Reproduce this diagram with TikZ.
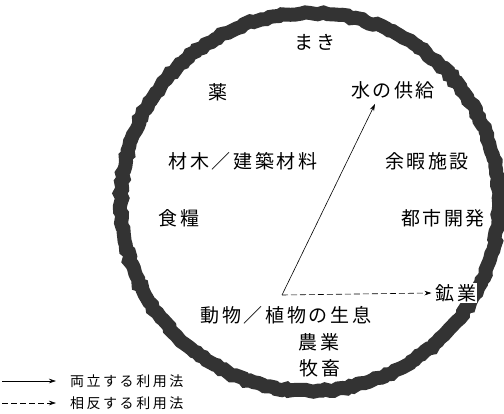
\documentclass[tikz,border=0pt]{standalone}
\usepackage{fontspec}
\newfontfamily\jp[LetterSpace=14]{Noto Sans CJK JP}
\newfontfamily\jpleg[LetterSpace=18]{Noto Sans CJK JP}
\usetikzlibrary{arrows.meta,decorations.pathmorphing}
\begin{document}
\begin{tikzpicture}[x=1pt,y=-1pt,
  lab/.style={font=\jp\fontsize{19}{21}\selectfont, inner sep=1pt, fill=white},
  legtxt/.style={font=\jpleg\fontsize{14}{16}\selectfont, anchor=west, inner sep=0pt},
  ring/.style={draw=black!80, line width=14pt, decorate,
    decoration={random steps,segment length=4pt,amplitude=1.3pt}},
  link/.style={-{Stealth[length=7pt,width=4.5pt]}, line width=0.6pt},
]
\pgfmathsetseed{7}
\useasboundingbox (0,0) rectangle (504,413);
\node[circle, minimum size=2pt, inner sep=0pt] (ctr) at (310,202) {};
\draw[ring] (ctr.center) circle [radius=189pt];
% labels
\node[lab] (maki)   at (315,42)  {まき};
\node[lab] (kusuri) at (218,92)  {薬};
\node[lab] (water)  at (393,90)  {水の供給};
\node[lab] (wood)   at (243,161) {材木／建築材料};
\node[lab] (leisure) at (427,161) {余暇施設};
\node[lab] (food)   at (179,218) {食糧};
\node[lab] (urban)  at (443,218) {都市開発};
\node[lab] (mining) at (456,293) {鉱業};
\node[lab] (habitat) at (286,315) {動物／植物の生息};
\node[lab] (farm)   at (319,342) {農業};
\node[lab] (graze)  at (320,368) {牧畜};
% connectors
\coordinate (hub) at (282,295);
\draw[link] (hub) -- ([xshift=-18pt,yshift=-4pt]water.south);
\draw[link, dashed, dash pattern=on 6pt off 3pt] (hub) -- ([xshift=-3pt]mining.west);
% legend
\coordinate (l1a) at (2,381);
\coordinate (l2a) at (2,403);
\node[legtxt] (leg1) at (70,381) {両立する利用法};
\node[legtxt] (leg2) at (70,403) {相反する利用法};
\draw[link] (l1a) -- ([xshift=-14pt]leg1.west);
\draw[link, dashed, dash pattern=on 6pt off 3pt] (l2a) -- ([xshift=-14pt]leg2.west);
\end{tikzpicture}
\end{document}
